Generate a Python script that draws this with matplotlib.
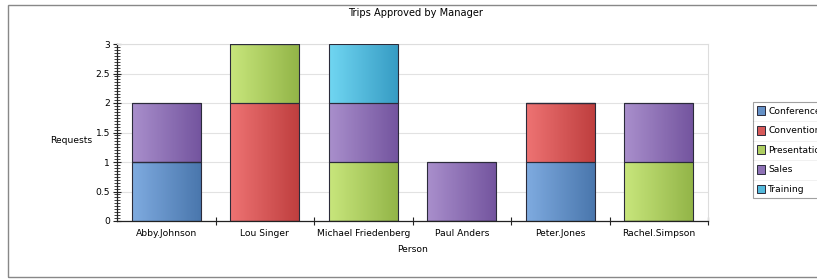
import matplotlib.pyplot as plt
import matplotlib.colors as mcolors
import numpy as np
from matplotlib.lines import Line2D
from matplotlib.patches import Patch, Rectangle

people = ["Abby.Johnson", "Lou Singer", "Michael Friedenberg", "Paul Anders",
          "Peter.Jones", "Rachel.Simpson"]
conference = [1, 0, 0, 0, 1, 0]
convention = [0, 2, 0, 0, 1, 0]
presentation = [0, 1, 1, 0, 0, 1]
sales = [1, 0, 1, 1, 0, 1]
training = [0, 0, 1, 0, 0, 0]

series = [
    ("Conference", conference, "#7fabe0", "#4a77ad"),
    ("Convention", convention, "#ee7373", "#bf3f3f"),
    ("Presentation", presentation, "#c8e67c", "#93b548"),
    ("Sales", sales, "#a98fcc", "#74559f"),
    ("Training", training, "#70d6f2", "#379cc4"),
]

plt.rcParams["font.family"] = ["DejaVu Sans"]
FS = 6.6

fig = plt.figure(figsize=(8.17, 2.79), dpi=100)
fig.patches.append(Rectangle((8 / 817, 2 / 279), 1.0, 272 / 279, transform=fig.transFigure,
                             fill=False, edgecolor="#888888", lw=1.0))
ax = fig.add_axes([117 / 817, 58 / 279, 591 / 817, 177 / 279])

x = np.arange(len(people))
bottom = np.zeros(len(people))
width = 0.70
handles = []
for name, vals, c_light, c_dark in series:
    vals = np.array(vals, dtype=float)
    cmap = mcolors.LinearSegmentedColormap.from_list(name, [c_light, c_dark])
    grad = np.linspace(0, 1, 64).reshape(1, -1)
    bars = ax.bar(x, vals, width, bottom=bottom, color="none",
                  edgecolor="#2b2b3a", lw=0.8, zorder=3)
    for b, v in zip(bars, vals):
        if v <= 0:
            continue
        im = ax.imshow(grad, cmap=cmap, aspect="auto", zorder=2,
                       extent=[b.get_x(), b.get_x() + b.get_width(),
                               b.get_y(), b.get_y() + b.get_height()])
        im.set_clip_path(b)
    bottom += vals
    handles.append(Patch(facecolor=mcolors.to_hex(
        np.mean([mcolors.to_rgb(c_light), mcolors.to_rgb(c_dark)], axis=0)),
        edgecolor="#2b2b3a", lw=0.7, label=name))

ax.set_xlim(-0.5, len(people) - 0.5)
ax.set_ylim(0, 3)
ax.set_yticks(np.arange(0, 3.01, 0.5))
ax.set_yticklabels(["0", "0.5", "1", "1.5", "2", "2.5", "3"])
ax.set_yticks(np.arange(0, 3.001, 0.05), minor=True)
ax.yaxis.grid(True, color="#e2e2e2", lw=0.8, zorder=0)
ax.tick_params(axis="y", which="major", direction="inout", length=6, width=0.8,
               labelsize=FS, pad=2, color="#222222")
ax.tick_params(axis="y", which="minor", direction="inout", length=4, width=0.6,
               color="#222222")

ax.set_xticks(x)
ax.set_xticklabels(people)
ax.set_xticks(np.arange(0.5, len(people), 1.0), minor=True)
ax.tick_params(axis="x", which="major", length=0, labelsize=FS, pad=6)
ax.tick_params(axis="x", which="minor", direction="inout", length=6, width=0.8,
               color="#222222")

for s in ["left", "bottom"]:
    ax.spines[s].set_color("#222222")
    ax.spines[s].set_linewidth(0.9)
for s in ["top", "right"]:
    ax.spines[s].set_color("#dddddd")
    ax.spines[s].set_linewidth(0.8)

ax.set_xlabel("Person", fontsize=FS, labelpad=5)
ax.set_ylabel("Requests", fontsize=FS, rotation=0, ha="right", va="center")
ax.yaxis.set_label_coords(-0.042, 0.455)
fig.text(416 / 817, 1 - 13 / 279, "Trips Approved by Manager", ha="center",
         va="center", fontsize=7.1)

leg = fig.legend(handles=handles, loc="upper left",
                 bbox_to_anchor=(753 / 817, 1 - 102 / 279), fontsize=FS,
                 frameon=True, fancybox=False, edgecolor="#888888",
                 handlelength=0.9, handleheight=1.1, handletextpad=0.3,
                 labelspacing=1.1, borderpad=0.45, borderaxespad=0)
leg.get_frame().set_linewidth(0.8)

# row separators inside the legend box
fig.canvas.draw()
inv = fig.transFigure.inverted()
box = leg.get_window_extent()
ys = [t.get_window_extent().y0 for t in leg.get_texts()]
tops = [t.get_window_extent().y1 for t in leg.get_texts()]
for lo, hi in zip(ys[:-1], tops[1:]):
    ymid = (lo + hi) / 2
    (x0, y0), (x1, _) = inv.transform([(box.x0, ymid), (box.x1, ymid)])
    fig.add_artist(Line2D([x0, x1], [y0, y0], transform=fig.transFigure,
                          color="#bbbbbb", lw=0.7))

fig.savefig("out.png", dpi=100)
